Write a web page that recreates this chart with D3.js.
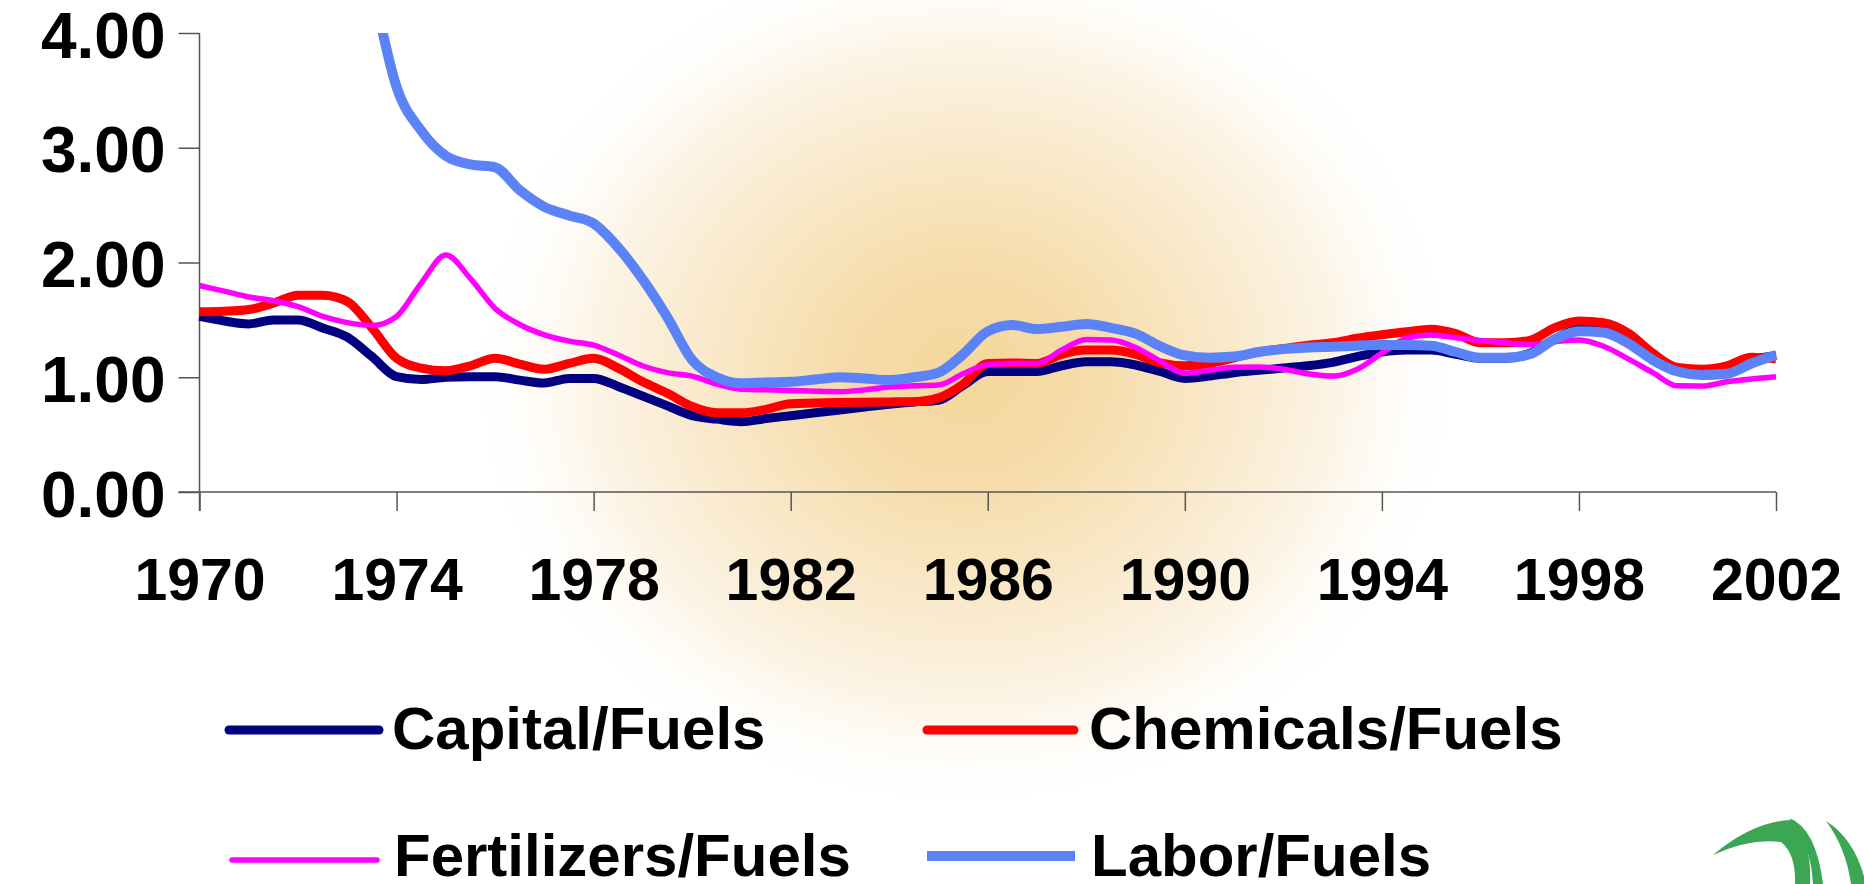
<!DOCTYPE html>
<html>
<head>
<meta charset="utf-8">
<script src="https://cdn.jsdelivr.net/npm/d3@7"></script>
<style>
  html, body { margin: 0; padding: 0; background: #fff; }
  svg { display: block; }
  text { font-family: "Liberation Sans", Arial, sans-serif; font-weight: bold; fill: #000; }
</style>
</head>
<body>
<svg id="chart" width="1864" height="884"></svg>
<script>
// half-year steps, 1970 .. 2002
var years = d3.range(1970, 2002.001, 0.5);

var capital = [1.53, 1.49, 1.465, 1.50, 1.50, 1.43, 1.35, 1.18, 1.005, 0.98,
  1.00, 1.005, 1.005, 0.975, 0.95, 0.99, 0.99, 0.92, 0.835, 0.75,
  0.665, 0.635, 0.613, 0.64, 0.665, 0.69, 0.715, 0.74, 0.765, 0.785,
  0.80, 0.93, 1.05, 1.05, 1.05, 1.10, 1.135, 1.135, 1.107, 1.05,
  0.99, 1.01, 1.04, 1.06, 1.08, 1.10, 1.13, 1.18, 1.22, 1.237,
  1.237, 1.20, 1.165, 1.165, 1.21, 1.33, 1.42, 1.40, 1.325, 1.20,
  1.07, 1.055, 1.07, 1.15, 1.19];

var chemicals = [1.57, 1.575, 1.59, 1.645, 1.715, 1.715, 1.66, 1.43, 1.165, 1.08,
  1.057, 1.10, 1.165, 1.115, 1.07, 1.12, 1.165, 1.08, 0.96, 0.86,
  0.745, 0.69, 0.69, 0.72, 0.77, 0.775, 0.78, 0.783, 0.785, 0.787,
  0.82, 0.94, 1.12, 1.125, 1.12, 1.20, 1.237, 1.237, 1.20, 1.125,
  1.10, 1.12, 1.17, 1.22, 1.25, 1.28, 1.30, 1.34, 1.37, 1.397,
  1.418, 1.38, 1.30, 1.30, 1.32, 1.43, 1.49, 1.475, 1.385, 1.21,
  1.085, 1.07, 1.10, 1.175, 1.16];

var fertilizers = [1.80, 1.75, 1.70, 1.667, 1.615, 1.53, 1.476, 1.45, 1.53, 1.82,
  2.065, 1.86, 1.60, 1.46, 1.37, 1.315, 1.28, 1.194, 1.098, 1.04,
  1.01, 0.94, 0.895, 0.89, 0.885, 0.878, 0.874, 0.89, 0.915, 0.925,
  0.932, 1.03, 1.11, 1.12, 1.12, 1.237, 1.33, 1.325, 1.26, 1.14,
  1.034, 1.06, 1.087, 1.09, 1.07, 1.03, 1.01, 1.07, 1.21, 1.34,
  1.368, 1.345, 1.32, 1.30, 1.285, 1.31, 1.325, 1.27, 1.16, 1.04,
  0.925, 0.923, 0.96, 0.985, 1.005];

// above 4.00 before 1973.5 (off the chart)
var labor = [null, null, null, null, null, null, null, 4.45, 3.53, 3.15,
  2.93, 2.855, 2.83, 2.63, 2.485, 2.41, 2.34, 2.13, 1.85, 1.52,
  1.15, 1.00, 0.947, 0.955, 0.96, 0.98, 1.00, 0.99, 0.976, 1.00,
  1.04, 1.20, 1.40, 1.455, 1.42, 1.44, 1.464, 1.43, 1.38, 1.27,
  1.19, 1.17, 1.18, 1.22, 1.245, 1.26, 1.266, 1.275, 1.28, 1.28,
  1.275, 1.22, 1.17, 1.17, 1.20, 1.33, 1.40, 1.39, 1.296, 1.15,
  1.05, 1.02, 1.03, 1.12, 1.194];

var seriesNames = ["Capital/Fuels", "Chemicals/Fuels", "Fertilizers/Fuels", "Labor/Fuels"];
var seriesColors = ["#000080", "#ff0000", "#ff00ff", "#5b82f6"];
var seriesWidths = [9, 9, 5.5, 10];
var yTicks = [0, 1, 2, 3, 4];
var xTicks = [1970, 1974, 1978, 1982, 1986, 1990, 1994, 1998, 2002];

var series = [capital, chemicals, fertilizers, labor].map(function(vals, i) {
  return {
    name: seriesNames[i], color: seriesColors[i], width: seriesWidths[i],
    points: years.map(function(y, j) { return {year: y, value: vals[j]}; })
  };
});

var svg = d3.select("#chart");
var defs = svg.append("defs");

// soft golden glow behind the chart
var grad = defs.append("radialGradient").attr("id", "glow");
grad.append("stop").attr("offset", "0%").attr("stop-color", "#f4d79b");
grad.append("stop").attr("offset", "25%").attr("stop-color", "#f6dcaa");
grad.append("stop").attr("offset", "50%").attr("stop-color", "#f9e8c8");
grad.append("stop").attr("offset", "75%").attr("stop-color", "#fcf4e6");
grad.append("stop").attr("offset", "100%").attr("stop-color", "#ffffff").attr("stop-opacity", 0);

svg.append("ellipse")
  .attr("cx", 965).attr("cy", 375)
  .attr("rx", 500).attr("ry", 440)
  .attr("fill", "url(#glow)");

var x = d3.scaleLinear().domain([1970, 2002]).range([199.5, 1776]);
var y = d3.scaleLinear().domain([0, 4]).range([492, 33]);

defs.append("clipPath").attr("id", "plot")
  .append("rect").attr("x", 190).attr("y", 33).attr("width", 1600).attr("height", 470);

// axes
var yAxis = svg.append("g").attr("transform", "translate(" + x(1970) + ",0)")
  .call(d3.axisLeft(y).tickValues(yTicks).tickSize(21).tickFormat(d3.format(".2f")));
yAxis.select(".domain").remove();
yAxis.append("line").attr("y1", y(4)).attr("y2", y(0) + 19).attr("stroke", "#555").attr("stroke-width", 1.5);
yAxis.selectAll(".tick line").attr("stroke", "#555").attr("stroke-width", 1.5);
yAxis.selectAll(".tick text")
  .attr("x", -34).attr("dy", null).attr("y", 24)
  .style("font-size", "64px").style("font-family", "'Liberation Sans', Arial, sans-serif")
  .style("font-weight", "bold").attr("fill", "#000");

var xAxis = svg.append("g").attr("transform", "translate(0," + y(0) + ")")
  .call(d3.axisBottom(x).tickValues(xTicks).tickSize(19).tickFormat(d3.format("d")));
xAxis.select(".domain").remove();
xAxis.append("line").attr("x1", x(1970) - 21).attr("x2", x(2002)).attr("stroke", "#555").attr("stroke-width", 1.5);
xAxis.selectAll(".tick line").attr("stroke", "#555").attr("stroke-width", 1.5);
xAxis.selectAll(".tick text")
  .attr("dy", null).attr("y", 108)
  .style("font-size", "59px").style("font-family", "'Liberation Sans', Arial, sans-serif")
  .style("font-weight", "bold").attr("fill", "#000");

// lines
var line = d3.line()
  .defined(function(d) { return d.value != null; })
  .x(function(d) { return x(d.year); })
  .y(function(d) { return y(d.value); })
  .curve(d3.curveMonotoneX);

svg.append("g").attr("clip-path", "url(#plot)")
  .selectAll("path")
  .data(series)
  .enter().append("path")
  .attr("d", function(d) { return line(d.points); })
  .attr("fill", "none")
  .attr("stroke", function(d) { return d.color; })
  .attr("stroke-width", function(d) { return d.width; })
  .attr("stroke-linejoin", "round");

// legend
var legendPos = [
  {x1: 229, x2: 379, ly: 730, tx: 392, ty: 749, cap: "round"},
  {x1: 927, x2: 1074, ly: 730, tx: 1089, ty: 749, cap: "round"},
  {x1: 232, x2: 377, ly: 860, tx: 394, ty: 876, cap: "round"},
  {x1: 927, x2: 1075, ly: 856, tx: 1091, ty: 876, cap: "butt"}
];

var legend = svg.append("g").selectAll("g")
  .data(series)
  .enter().append("g");

legend.append("line")
  .attr("x1", function(d, i) { return legendPos[i].x1; })
  .attr("x2", function(d, i) { return legendPos[i].x2; })
  .attr("y1", function(d, i) { return legendPos[i].ly; })
  .attr("y2", function(d, i) { return legendPos[i].ly; })
  .attr("stroke", function(d) { return d.color; })
  .attr("stroke-width", function(d) { return d.width; })
  .attr("stroke-linecap", function(d, i) { return legendPos[i].cap; });

legend.append("text")
  .attr("x", function(d, i) { return legendPos[i].tx; })
  .attr("y", function(d, i) { return legendPos[i].ty; })
  .style("font-size", "60px")
  .text(function(d) { return d.name; });

// green swoosh logo, bottom right corner
var logo = svg.append("g").attr("fill", "#3ba653");
logo.append("path").attr("d", "M1713 855 Q1755 820 1794 820 Q1812 844 1810 884 L1795 884 Q1796 854 1781 842 Q1750 838 1713 855 Z");
logo.append("path").attr("d", "M1789 818 Q1816 828 1823 884 L1813 884 Q1811 844 1789 818 Z");
logo.append("path").attr("d", "M1826 821 Q1856 840 1866 884 L1851 884 Q1846 848 1826 821 Z");
</script>
</body>
</html>
